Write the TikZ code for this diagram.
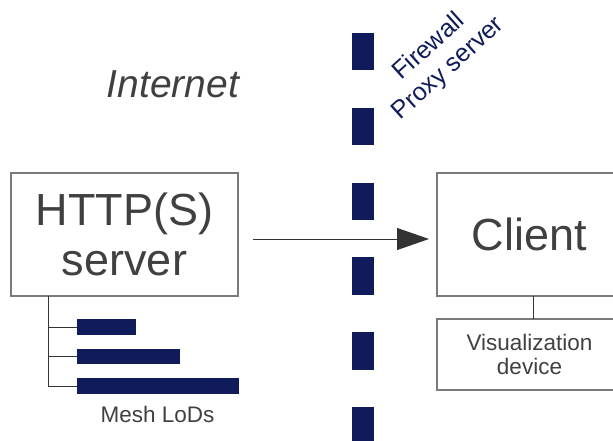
\documentclass[tikz,border=0pt]{standalone}
\usepackage{fontspec}
\setmainfont{Liberation Sans}
\usetikzlibrary{arrows.meta}
\definecolor{navy}{HTML}{0F1B5A}
\definecolor{txtgray}{HTML}{404040}
\definecolor{boxgray}{HTML}{7A7A7A}
\definecolor{linegray}{HTML}{333333}
\tikzset{
  box/.style={draw=boxgray, line width=1.2pt, rectangle, inner sep=0pt, outer sep=0pt, text=txtgray, align=center},
  bigtext/.style={font=\fontsize{45}{50}\selectfont},
  smalltext/.style={font=\fontsize{22.5}{24}\selectfont},
  lodbar/.style={fill=navy, draw=none, rectangle, inner sep=0pt, outer sep=0pt, minimum height=15.5pt, anchor=west},
  treeline/.style={draw=linegray, line width=1pt},
  flow/.style={draw=linegray, line width=1pt, -{Triangle[length=32pt, width=22pt]}},
}
\begin{document}
\begin{tikzpicture}[x=1pt, y=-1pt]
\useasboundingbox (0,0) rectangle (613,441);
% firewall
\draw[line width=22pt, navy, dash pattern=on 37.5pt off 37.3pt] (363,33) -- (363,460);
\node[text=navy, font=\fontsize{25}{29}\selectfont, rotate=42, align=center] (fw) at (439,58) {Firewall\\Proxy server};
% internet label
\node[text=txtgray, font=\fontsize{39}{40}\selectfont\itshape, anchor=base] (inet) at (173,98) {Internet};
% server
\node[box, bigtext, minimum width=227pt, minimum height=123pt] (server) at (124.5,234.5) {HTTP(S)\\server};
% client
\node[box, bigtext, minimum width=185pt, minimum height=123pt] (client) at (529.5,234.5) {Client};
% visualization
\node[box, smalltext, minimum width=185pt, minimum height=71pt] (vis) at (529.5,354.5) {Visualization\\device};
\coordinate (cbot) at (533,296);
\draw[draw=linegray, line width=1pt] (cbot) -- (cbot |- vis.north);
% arrow
\draw[flow, shorten <=15pt, shorten >=8pt] ([yshift=-4.5pt]server.east) -- ([yshift=-4.5pt]client.west);
% mesh LoDs
\node[lodbar, minimum width=59pt] (b1) at (77,327) {};
\node[lodbar, minimum width=103pt] (b2) at (77,356.5) {};
\node[lodbar, minimum width=162pt] (b3) at (77,386) {};
\coordinate (treetop) at (48,296);
\draw[treeline] (treetop) |- (b3.west);
\draw[treeline] (treetop |- b1.west) -- (b1.west);
\draw[treeline] (treetop |- b2.west) -- (b2.west);
\node[text=txtgray, font=\fontsize{22.5}{24}\selectfont, anchor=base] (lods) at (157.5,422) {Mesh LoDs};
\end{tikzpicture}
\end{document}
